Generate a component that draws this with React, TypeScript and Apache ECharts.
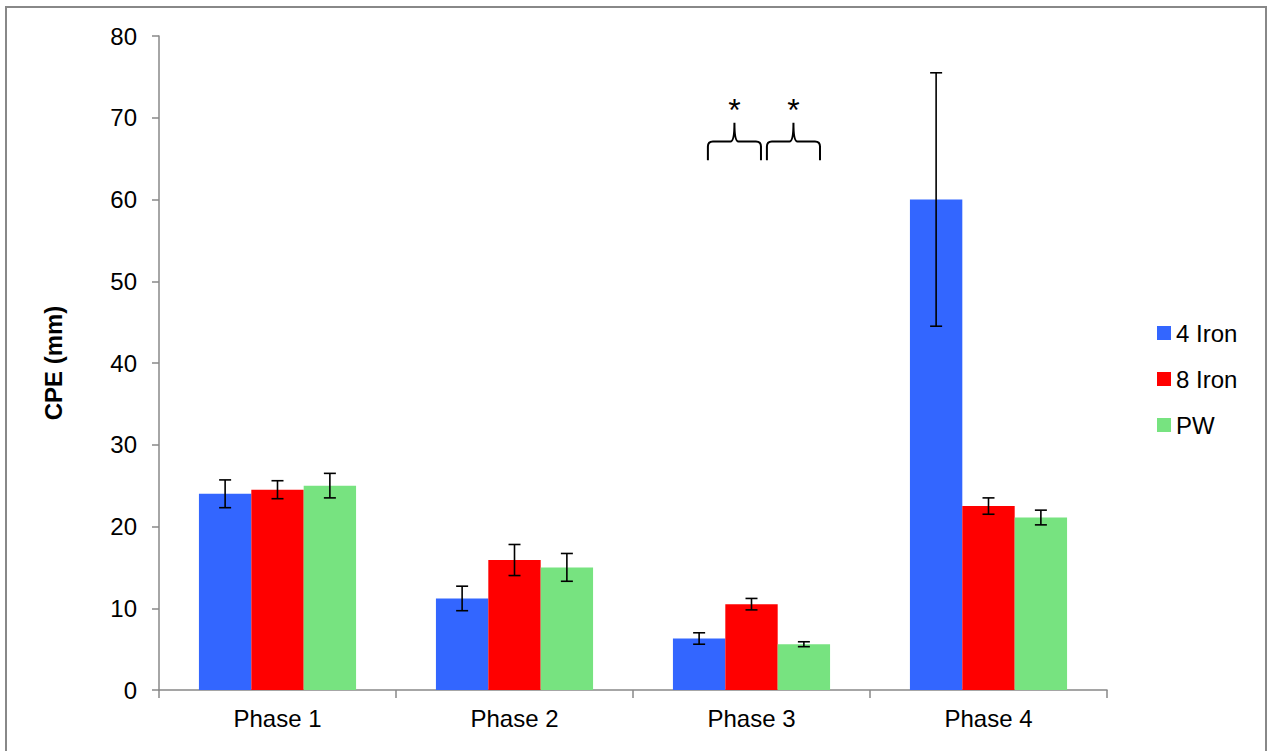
import React, { useEffect, useRef } from "react";
import * as echarts from "echarts";

const categories = ["Phase 1", "Phase 2", "Phase 3", "Phase 4"];
const seriesNames = ["4 Iron", "8 Iron", "PW"];
const fourIron = [24.0, 11.2, 6.3, 60.0];
const fourIronErr = [1.7, 1.5, 0.7, 15.5];
const eightIron = [24.5, 15.9, 10.5, 22.5];
const eightIronErr = [1.1, 1.9, 0.7, 1.0];
const pw = [25.0, 15.0, 5.6, 21.1];
const pwErr = [1.5, 1.7, 0.3, 0.9];
const colors = ["#3366FF", "#FF0000", "#77E380"];
const yTicks = { min: 0, max: 80, interval: 10 };
// significance annotations: category index, span as fraction of category band around its centre
const braces = [
  { cat: 2, from: -0.184, to: 0.04, label: "*" },
  { cat: 2, from: 0.065, to: 0.289, label: "*" },
];
const braceLevels = { bottom: 64.8, mid: 67.1, peak: 69.4, star: 70.9 };

const GAP = 0.337;
const FONT = "'Liberation Sans', Arial, sans-serif";

export default function App() {
  const ref = useRef<HTMLDivElement>(null);
  useEffect(() => {
    const chart = echarts.init(ref.current!, null, { renderer: "svg" });
    const values = [fourIron, eightIron, pw];
    const errs = [fourIronErr, eightIronErr, pwErr];
    const errData: number[][] = [];
    values.forEach((arr, s) =>
      arr.forEach((v, c) => errData.push([c, v, errs[s][c], s]))
    );
    const braceData = braces.map((b) => [b.cat, b.from, b.to]);

    chart.setOption({
      animation: false,
      textStyle: { fontFamily: FONT },
      graphic: [
        {
          type: "rect",
          shape: { x: 6, y: 7, width: 1260, height: 770 },
          style: { fill: "none", stroke: "#888888", lineWidth: 2 },
          silent: true,
        },
      ],
      grid: { left: 159, right: 161, top: 36, bottom: 61 },
      legend: {
        orient: "vertical",
        left: 1152,
        top: 316,
        itemWidth: 14,
        itemHeight: 14,
        itemGap: 22,
        itemTextGap: 6,
        icon: "rect",
        data: seriesNames,
        textStyle: { fontSize: 24, color: "#000", fontFamily: FONT, lineHeight: 24 },
      },
      xAxis: {
        type: "category",
        data: categories,
        axisLine: { lineStyle: { color: "#888888", width: 1.5 } },
        axisTick: { show: true, length: 8, lineStyle: { color: "#888888", width: 1.5 } },
        axisLabel: { fontSize: 24, color: "#000", margin: 16, fontFamily: FONT },
      },
      yAxis: {
        type: "value",
        min: yTicks.min,
        max: yTicks.max,
        interval: yTicks.interval,
        name: "CPE (mm)",
        nameLocation: "middle",
        nameRotate: 90,
        nameGap: 94,
        nameTextStyle: { fontSize: 24, fontWeight: "bold", color: "#000", fontFamily: FONT },
        axisLine: { show: true, lineStyle: { color: "#888888", width: 1.5 } },
        axisTick: { show: true, length: 7, lineStyle: { color: "#888888", width: 1.5 } },
        splitLine: { show: false },
        axisLabel: { fontSize: 24, color: "#000", margin: 22, fontFamily: FONT },
      },
      series: [
        ...seriesNames.map((name, i) => ({
          name,
          type: "bar",
          data: values[i],
          barGap: "0%",
          barCategoryGap: GAP * 100 + "%",
          itemStyle: { color: colors[i] },
        })),
        {
          type: "custom",
          name: "errors",
          data: errData,
          encode: { x: 0, y: 1 },
          z: 10,
          renderItem: (params: any, api: any) => {
            const c = api.value(0);
            const v = api.value(1);
            const e = api.value(2);
            const s = api.value(3);
            const band = api.size([1, 0])[0];
            const bw = (band * (1 - GAP)) / 3;
            const cx = api.coord([c, v])[0] + (s - 1) * bw;
            const top = api.coord([c, v + e])[1];
            const bot = api.coord([c, v - e])[1];
            const hw = 6;
            const st = { stroke: "#000", lineWidth: 1.6 };
            return {
              type: "group",
              children: [
                { type: "line", shape: { x1: cx, y1: top, x2: cx, y2: bot }, style: st },
                { type: "line", shape: { x1: cx - hw, y1: top, x2: cx + hw, y2: top }, style: st },
                { type: "line", shape: { x1: cx - hw, y1: bot, x2: cx + hw, y2: bot }, style: st },
              ],
            };
          },
        },
        {
          type: "custom",
          name: "braces",
          data: braceData,
          encode: { x: 0 },
          z: 10,
          renderItem: (params: any, api: any) => {
            const c = api.value(0);
            const f = api.value(1);
            const t = api.value(2);
            const band = api.size([1, 0])[0];
            const center = api.coord([c, 0])[0];
            const x0 = center + f * band;
            const x1 = center + t * band;
            const xc = (x0 + x1) / 2;
            const yb = api.coord([c, braceLevels.bottom])[1];
            const ym = api.coord([c, braceLevels.mid])[1];
            const yp = api.coord([c, braceLevels.peak])[1];
            const ys = api.coord([c, braceLevels.star])[1];
            const r = 5;
            const r2 = 4;
            const d =
              `M${x0},${yb} L${x0},${ym + r} Q${x0},${ym} ${x0 + r},${ym} ` +
              `L${xc - r2},${ym} Q${xc},${ym} ${xc},${yp} ` +
              `Q${xc},${ym} ${xc + r2},${ym} L${x1 - r},${ym} ` +
              `Q${x1},${ym} ${x1},${ym + r} L${x1},${yb}`;
            return {
              type: "group",
              children: [
                {
                  type: "path",
                  shape: { pathData: d },
                  style: { fill: "none", stroke: "#000", lineWidth: 2 },
                },
                {
                  type: "text",
                  style: {
                    text: braces[params.dataIndex].label,
                    x: xc,
                    y: ys,
                    align: "center",
                    verticalAlign: "middle",
                    fontSize: 32,
                    fontFamily: FONT,
                    fill: "#000",
                  },
                },
              ],
            };
          },
        },
      ],
    });
    return () => chart.dispose();
  }, []);
  return (
    <div style={{ position: "absolute", left: 0, top: 0, width: 1268, height: 751, background: "#fff" }}>
      <div ref={ref} style={{ width: 1268, height: 751 }} />
    </div>
  );
}
